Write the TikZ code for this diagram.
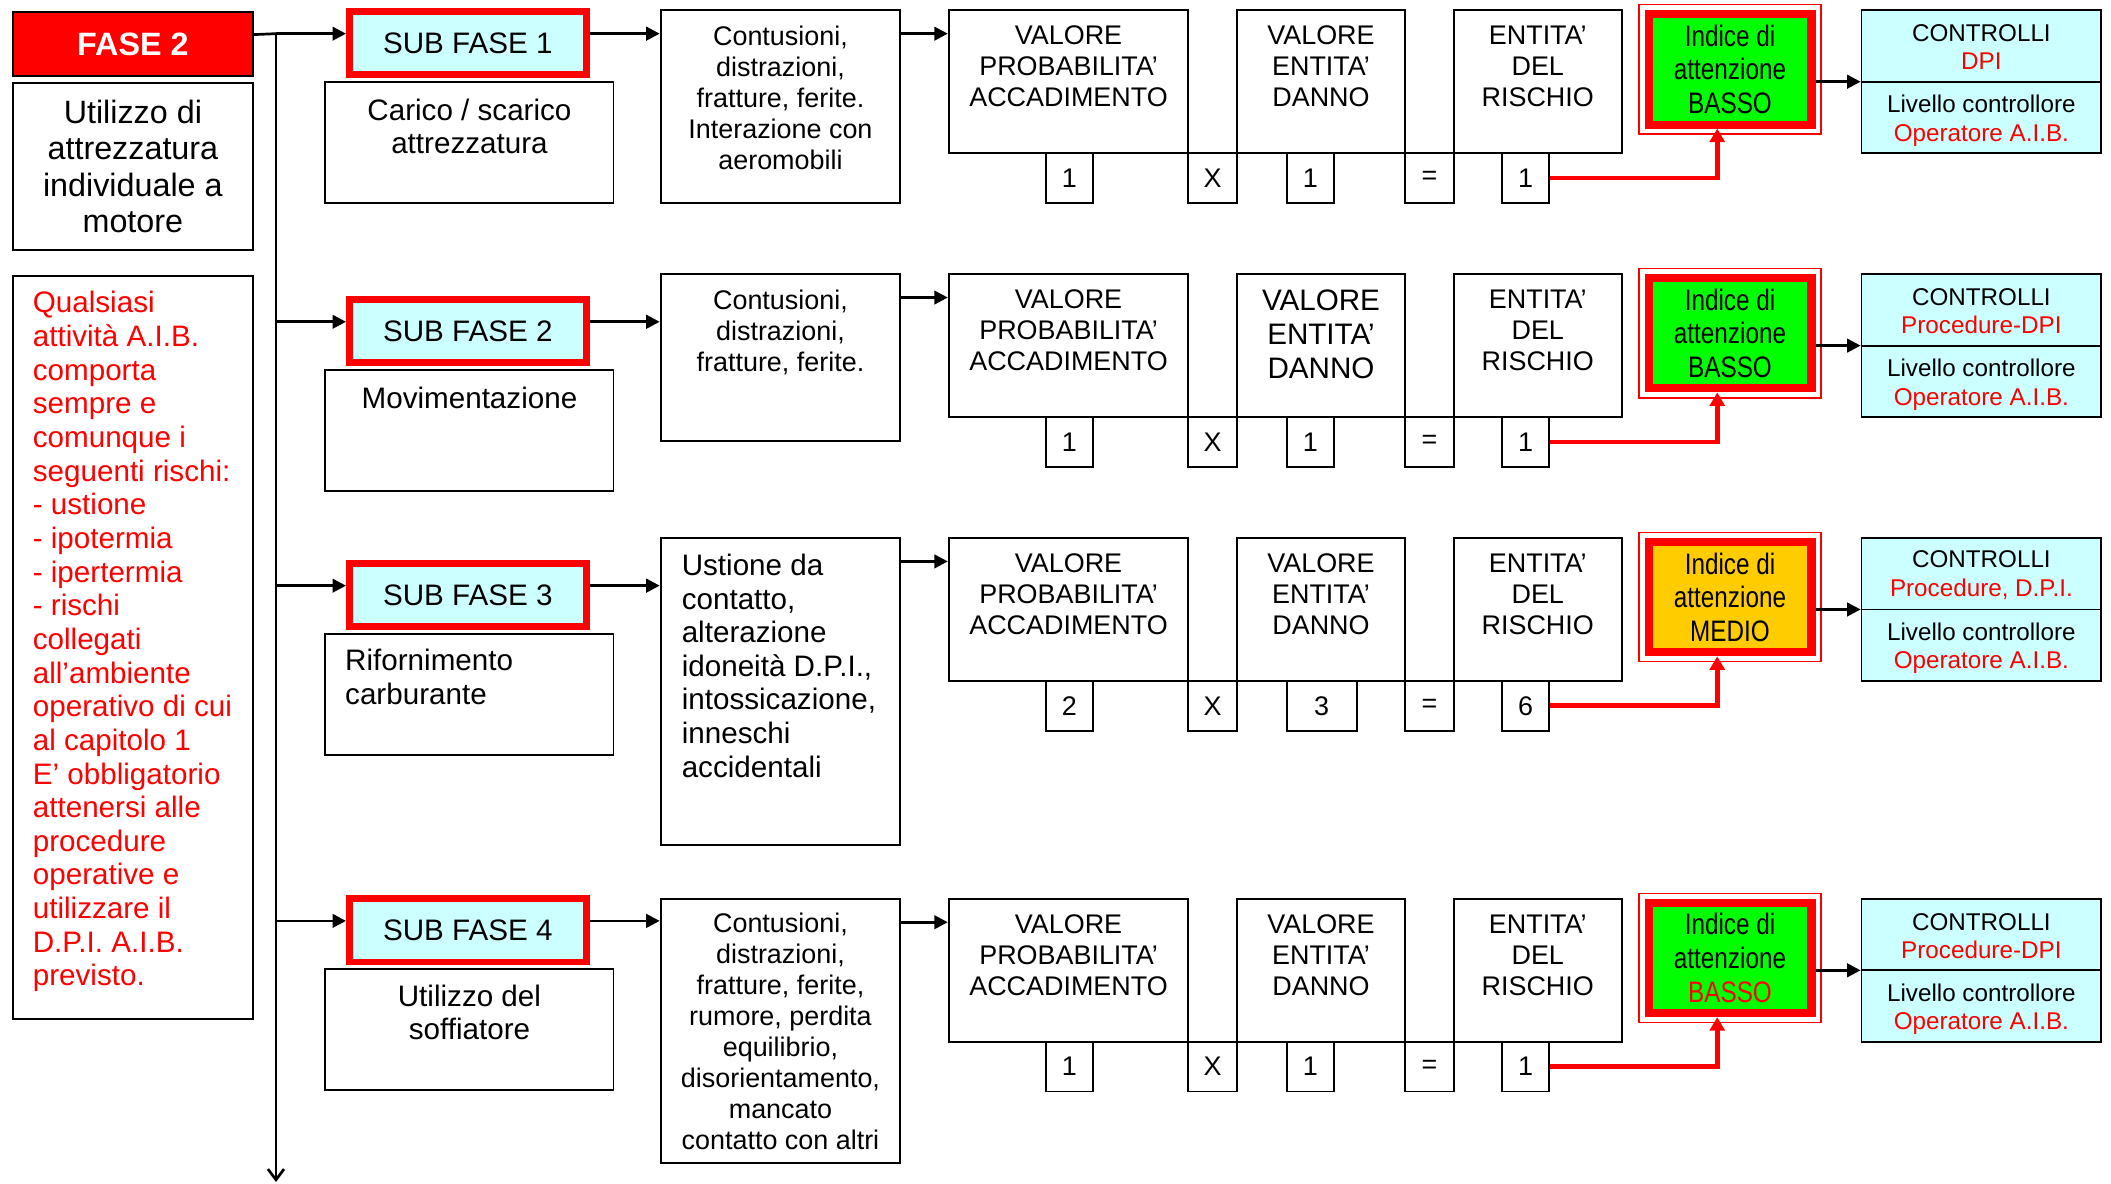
\documentclass[tikz,border=0pt]{standalone}
\usepackage{fontspec}
\setmainfont{Liberation Sans}
\newfontfamily\narrowfont[FakeStretch=0.82]{Liberation Sans}
\usetikzlibrary{arrows.meta,positioning}
\definecolor{subcyan}{HTML}{CCFFFF}
\definecolor{lowgreen}{HTML}{00FF00}
\definecolor{midorange}{HTML}{FFCC00}
\tikzset{
  sz/.style 2 args={minimum width=#1*0.5pt, minimum height=#2*0.5pt},
  cell/.style={draw=black, line width=0.7pt, inner sep=0pt, anchor=north west},
  txt/.style={inner sep=0pt, align=center, font=\fontsize{10}{11.5}\selectfont},
  subbox/.style={cell, draw=red, line width=2.5pt, fill=subcyan, font=\fontsize{11}{12.5}\selectfont},
  conn/.style={draw=black, line width=1pt, -{Triangle[length=5pt,width=5pt]}},
  riskarrow/.style={draw=red, line width=1.7pt, -{Triangle[length=5pt,width=5.5pt]}}
}
\begin{document}
\begin{tikzpicture}[x=0.5pt, y=-0.5pt]
\useasboundingbox (0,0) rectangle (1568,879);
% colonna fase
\node[cell, sz={178}{48}, fill=red, text=white, font=\bfseries\fontsize{12}{14}\selectfont] (fase) at (9,8) {FASE 2};
\node[cell, sz={178}{124}, align=center, font=\fontsize{12}{13.5}\selectfont] (uso) at (9,61)
  {Utilizzo di\\attrezzatura\\individuale a\\motore};
\node[cell, sz={178}{552}] (nota) at (9,204) {};
\node[txt, align=left, text=red, font=\fontsize{11}{12.5}\selectfont, below right=6pt and 7.5pt of nota.north west] (notat)
  {Qualsiasi\\attività A.I.B.\\comporta\\sempre e\\comunque i\\seguenti rischi:\\- ustione\\- ipotermia\\- ipertermia\\- rischi\\collegati\\all’ambiente\\operativo di cui\\al capitolo 1\\E’ obbligatorio\\attenersi alle\\procedure\\operative e\\utilizzare il\\D.P.I. A.I.B.\\previsto.};
\coordinate (tr) at (205,25);
\coordinate (trend) at (205,878);
\draw[line width=1pt, -{Straight Barb[length=4pt,width=6pt]}] (tr) -- (trend);
\draw[line width=1pt] ([yshift=3.5pt]fase.east) -- (tr);
% sotto fasi
\foreach \r/\ys/\yr/\hh/\pv/\dv/\dw/\ev/\fc/\lvl/\lc/\ctl/\ds/\dl in {
  1/0/0/143/1/1/35/1/lowgreen/BASSO/black/DPI/10/11.5,
  2/214/196/124/1/1/35/1/lowgreen/BASSO/black/Procedure-DPI/11/12.5,
  3/410/392/228/2/3/52/6/midorange/MEDIO/black/{Procedure, D.P.I.}/10/11.5,
  4/659/660/196/1/1/35/1/lowgreen/BASSO/red/Procedure-DPI/10/11.5}
{
  \node[subbox, sz={176}{47}] (sub\r) at (257,6+\ys) {SUB FASE \r};
  \node[cell, sz={214}{90}] (desc\r) at (241,60+\ys) {};
  \node[cell, sz={178}{\hh}] (haz\r) at (490,7+\yr) {};
  \node[cell, sz={178}{106}] (prob\r) at (704,7+\yr) {};
  \node[cell, sz={125}{106}] (dan\r) at (918,7+\yr) {};
  \node[cell, sz={125}{106}] (ent\r) at (1079,7+\yr) {};
  \node[txt, below=6pt of prob\r.north] (probt\r) {VALORE\\PROBABILITA’\\ACCADIMENTO};
  \node[txt, font=\fontsize{\ds}{\dl}\selectfont, below=6pt of dan\r.north] (dant\r) {VALORE\\ENTITA’\\DANNO};
  \node[txt, below=6pt of ent\r.north] (entt\r) {ENTITA’\\DEL\\RISCHIO};
  \node[cell, sz={35}{37}, font=\fontsize{10}{11.5}\selectfont] (pv\r) at (776,113+\yr) {\pv};
  \node[cell, sz={36}{37}, font=\fontsize{10}{11.5}\selectfont] (xb\r) at (882,113+\yr) {X};
  \node[cell, sz={\dw}{37}, font=\fontsize{10}{11.5}\selectfont] (dv\r) at (955,113+\yr) {\dv};
  \node[cell, sz={36}{37}, font=\fontsize{10}{11.5}\selectfont] (eq\r) at (1043,113+\yr) {=};
  \node[cell, sz={35}{37}, font=\fontsize{10}{11.5}\selectfont] (ev\r) at (1115,113+\yr) {\ev};
  \node[cell, draw=red, line width=0.5pt, sz={135}{96}] (indo\r) at (1217,3+\yr) {};
  \node[draw=red, line width=3pt, fill=\fc, inner sep=0pt, sz={121}{82}, align=center,
    font=\narrowfont\fontsize{11}{12.5}\selectfont] (ind\r) at (indo\r.center)
    {Indice di\\attenzione\\\textcolor{\lc}{\lvl}};
  \node[cell, sz={178}{106}, fill=subcyan] (ctrl\r) at (1382,7+\yr) {};
  \draw[line width=0.7pt] (ctrl\r.west) -- (ctrl\r.east);
  \node[txt, font=\fontsize{9}{10.5}\selectfont] (ctrlu\r) at ([yshift=12.75pt]ctrl\r.center)
    {CONTROLLI\\\textcolor{red}{\ctl}};
  \node[txt, font=\fontsize{9}{10.5}\selectfont] (ctrll\r) at ([yshift=-14.5pt]ctrl\r.center)
    {Livello controllore\\\textcolor{red}{Operatore A.I.B.}};
  % frecce
  \coordinate (in\r) at ([yshift=3.5pt]sub\r.west);
  \coordinate (out\r) at ([yshift=3.5pt]sub\r.east);
  \coordinate (pin\r) at ([yshift=-9pt]prob\r.north west);
  \draw[conn] (tr |- in\r) -- (in\r);
  \draw[conn] (out\r) -- (out\r -| haz\r.west);
  \draw[conn] (pin\r -| haz\r.east) -- (pin\r);
  \draw[riskarrow] (ev\r.east) -| ([xshift=-4.75pt]ind\r.south);
  \draw[conn] (ind\r.east |- ctrl\r.west) -- (ctrl\r.west);
}
% testi delle sotto fasi
\node[txt, font=\fontsize{11}{12.5}\selectfont, below=6.5pt of desc1.north] (desc1t) {Carico / scarico\\attrezzatura};
\node[txt, font=\fontsize{11}{12.5}\selectfont, below=6.5pt of desc2.north] (desc2t) {Movimentazione};
\node[txt, align=left, font=\fontsize{11}{12.5}\selectfont, below right=6pt and 7.5pt of desc3.north west] (desc3t) {Rifornimento\\carburante};
\node[txt, font=\fontsize{11}{12.5}\selectfont, below=6pt of desc4.north] (desc4t) {Utilizzo del\\soffiatore};
% rischi
\node[txt, below=6pt of haz1.north] (haz1t) {Contusioni,\\distrazioni,\\fratture, ferite.\\Interazione con\\aeromobili};
\node[txt, below=6pt of haz2.north] (haz2t) {Contusioni,\\distrazioni,\\fratture, ferite.};
\node[txt, align=left, font=\fontsize{11}{12.5}\selectfont, below right=6pt and 8pt of haz3.north west] (haz3t)
  {Ustione da\\contatto,\\alterazione\\idoneità D.P.I.,\\intossicazione,\\inneschi\\accidentali};
\node[txt, below=5.5pt of haz4.north] (haz4t) {Contusioni,\\distrazioni,\\fratture, ferite,\\rumore, perdita\\equilibrio,\\disorientamento,\\mancato\\contatto con altri};
\end{tikzpicture}
\end{document}
